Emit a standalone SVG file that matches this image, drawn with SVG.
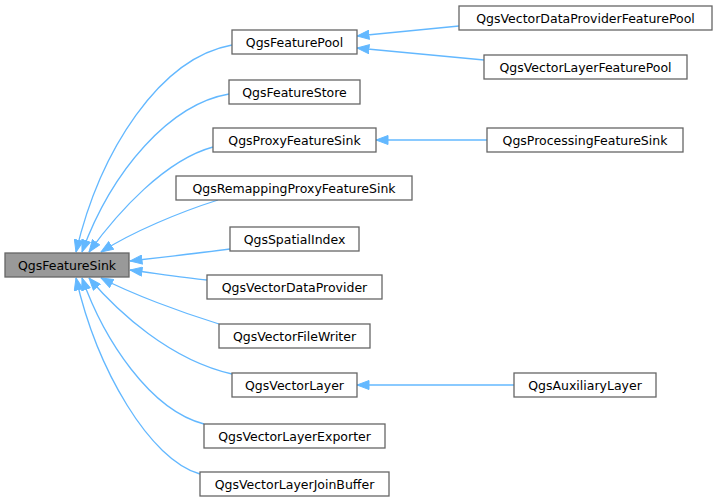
<svg xmlns="http://www.w3.org/2000/svg" width="716" height="504" viewBox="0 0 716 504">
<style>
.n rect{fill:#ffffff;stroke:#666666;stroke-width:1.3}
.n.cur rect{fill:#999999}
.n text{font-family:"DejaVu Sans",sans-serif;font-size:12.5px;fill:#000000;text-anchor:middle}
.e path{fill:none;stroke:#63b8ff;stroke-width:1.3;marker-end:url(#ah)}
</style>
<defs>
<marker id="ah" markerUnits="userSpaceOnUse" viewBox="0 0 13 10" refX="12.5" refY="5" markerWidth="13" markerHeight="10" orient="auto">
<path d="M0.5,0.5 L12.5,5 L0.5,9.5 Z" fill="#63b8ff" stroke="#63b8ff" stroke-width="1"/>
</marker>
</defs>
<rect width="716" height="504" fill="#ffffff"/>
<g id="edges" class="e">
<path d="M232,45 C160,58 100,150 76,252"/>
<path d="M229,94 C170,104 112,170 82,252"/>
<path d="M213,147 C165,160 118,212 89,252"/>
<path d="M218,200 C180,212 132,232 101,252"/>
<path d="M230,249 C200,253 165,257 130,261"/>
<path d="M207,280 C185,278 160,274 130,270"/>
<path d="M219,324 C180,312 132,294 101,278"/>
<path d="M232,374 C170,360 118,312 89,278"/>
<path d="M204,424 C150,410 104,340 82,278"/>
<path d="M200,474 C150,460 97,370 76,278"/>
<path d="M459,26 L357,36"/>
<path d="M484,60 L357,48"/>
<path d="M487,140 L376,140"/>
<path d="M514,385 L357,385"/>
</g>
<g id="QgsFeatureSink" class="n cur"><rect x="5" y="253" width="124" height="24"/><text x="67" y="269.5">QgsFeatureSink</text></g>
<g id="QgsFeaturePool" class="n"><rect x="232" y="30" width="125" height="24"/><text x="294.5" y="46.5">QgsFeaturePool</text></g>
<g id="QgsFeatureStore" class="n"><rect x="229" y="80" width="131" height="24"/><text x="294.5" y="96.5">QgsFeatureStore</text></g>
<g id="QgsProxyFeatureSink" class="n"><rect x="213" y="128" width="163" height="24"/><text x="294.5" y="144.5">QgsProxyFeatureSink</text></g>
<g id="QgsRemappingProxyFeatureSink" class="n"><rect x="176" y="176" width="236" height="24"/><text x="294" y="192.5">QgsRemappingProxyFeatureSink</text></g>
<g id="QgsSpatialIndex" class="n"><rect x="230" y="227" width="129" height="24"/><text x="294.5" y="243.5">QgsSpatialIndex</text></g>
<g id="QgsVectorDataProvider" class="n"><rect x="207" y="275" width="175" height="24"/><text x="294.5" y="291.5">QgsVectorDataProvider</text></g>
<g id="QgsVectorFileWriter" class="n"><rect x="219" y="324" width="151" height="24"/><text x="294.5" y="340.5">QgsVectorFileWriter</text></g>
<g id="QgsVectorLayer" class="n"><rect x="232" y="373" width="125" height="24"/><text x="294.5" y="389.5">QgsVectorLayer</text></g>
<g id="QgsVectorLayerExporter" class="n"><rect x="204" y="424" width="181" height="24"/><text x="294.5" y="440.5">QgsVectorLayerExporter</text></g>
<g id="QgsVectorLayerJoinBuffer" class="n"><rect x="200" y="472" width="189" height="24"/><text x="294.5" y="488.5">QgsVectorLayerJoinBuffer</text></g>
<g id="QgsVectorDataProviderFeaturePool" class="n"><rect x="459" y="6" width="253" height="24"/><text x="585.5" y="22.5">QgsVectorDataProviderFeaturePool</text></g>
<g id="QgsVectorLayerFeaturePool" class="n"><rect x="484" y="55" width="203" height="24"/><text x="585.5" y="71.5">QgsVectorLayerFeaturePool</text></g>
<g id="QgsProcessingFeatureSink" class="n"><rect x="487" y="128" width="196" height="24"/><text x="585" y="144.5">QgsProcessingFeatureSink</text></g>
<g id="QgsAuxiliaryLayer" class="n"><rect x="514" y="373" width="142" height="24"/><text x="585" y="389.5">QgsAuxiliaryLayer</text></g>
</svg>
